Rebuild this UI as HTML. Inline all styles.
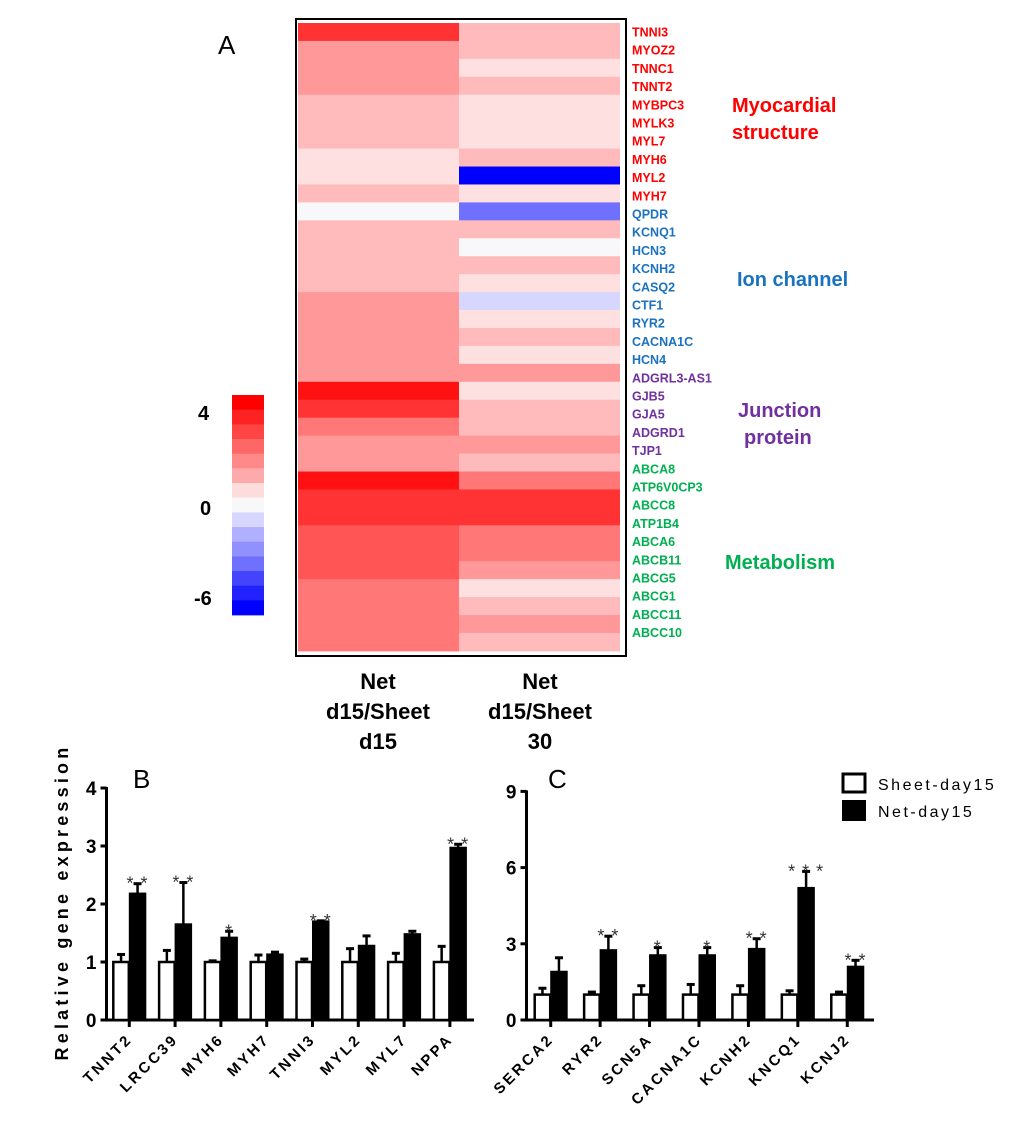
<!DOCTYPE html>
<html><head><meta charset="utf-8"><style>
body{margin:0;background:#fff;}
svg{display:block;font-family:"Liberation Sans",Arial,sans-serif;}
</style></head><body>
<svg id="fig" width="1020" height="1138" viewBox="0 0 1020 1138">
<g id="heat"></g>
<g id="chartB"></g>
<g id="chartC"></g>
</svg>
<script>
const NS="http://www.w3.org/2000/svg";
function mk(p,t,a,txt){const e=document.createElementNS(NS,t);for(const k in a)e.setAttribute(k,a[k]);if(txt!==undefined)e.textContent=txt;p.appendChild(e);return e;}

// ---------- Heatmap data ----------
const genes=["TNNI3","MYOZ2","TNNC1","TNNT2","MYBPC3","MYLK3","MYL7","MYH6","MYL2","MYH7","QPDR","KCNQ1","HCN3","KCNH2","CASQ2","CTF1","RYR2","CACNA1C","HCN4","ADGRL3-AS1","GJB5","GJA5","ADGRD1","TJP1","ABCA8","ATP6V0CP3","ABCC8","ATP1B4","ABCA6","ABCB11","ABCG5","ABCG1","ABCC11","ABCC10"];
const geneGroup=[0,0,0,0,0,0,0,0,0,0,1,1,1,1,1,1,1,1,1,2,2,2,2,2,3,3,3,3,3,3,3,3,3,3];
const col1=[3,1.5,1.5,1.5,1,1,1,0.5,0.5,1,0,1,1,1,1,1.5,1.5,1.5,1.5,1.5,3.8,3,2,1.5,1.5,3.8,3,3,2.5,2.5,2.5,2,2,2,2];
const col2=[1,1,0.5,1,0.5,0.5,0.5,1,-6,0.5,-4,1,0,1,0.5,-1,0.5,1,0.5,1.5,0.5,1,1,1.5,1,2,3,3,2,2,1.5,0.5,1,1.5,1];
const legendTicks=["4","0","-6"];
const colLabels=[["Net","d15/Sheet","d15"],["Net","d15/Sheet","30"]];
const groupColors=["#ff0000","#1a72c0","#7030a0","#00b050"];
function heatColor(v){
  if(v>=3.8)return"#ff1111";if(v>=3)return"#ff3333";if(v>=2.5)return"#ff5555";if(v>=2)return"#ff7777";
  if(v>=1.5)return"#ff9999";if(v>=1)return"#ffbbbb";if(v>=0.5)return"#ffe0e0";if(v>-0.5)return"#f8f8fa";
  if(v>-2)return"#d6d6ff";if(v>-5)return"#7070ff";return"#0000ff";}
(function(){
 const g=document.getElementById('heat');
 const x0=298,cw=161,y0=23,rh=17.94;
 const box=mk(g,'rect',{x:296,y:19,width:330,height:637,fill:'none',stroke:'#000','stroke-width':2});
 
 [col1,col2].forEach((col,c)=>col.forEach((v,i)=>{
  const r=mk(g,'rect',{x:x0+c*cw,y:y0+i*rh,width:cw,height:rh+0.5,fill:heatColor(v)});
  
 }));
 genes.forEach((t,i)=>{
  const e=mk(g,'text',{x:632,y:36.5+i*18.2,'font-size':12.5,'font-weight':'bold',fill:groupColors[geneGroup[i]]},t);
  
 });
 const cats=[[["Myocardial","structure"],732,112,0],[["Ion channel"],737,286,1],[["Junction"," protein"],738,417,2],[["Metabolism"],725,569,3]];
 cats.forEach(([ls,x,y,ci])=>ls.forEach((l,j)=>{
  const e=mk(g,'text',{x:x+(j&&ci==2?6:0),y:y+j*27,'font-size':20,'font-weight':'bold',fill:groupColors[ci]},l);
  
 }));
 colLabels.forEach((ls,c)=>ls.forEach((l,j)=>{
  const e=mk(g,'text',{x:378+c*162,y:689+j*30,'font-size':22,'font-weight':'bold','text-anchor':'middle'},l);
  
 }));
 const A=mk(g,'text',{x:218,y:54,'font-size':26},"A");
 
 const lc=["#ff0000","#ff2222","#ff4444","#ff6666","#ff8888","#ffaaaa","#ffdddd","#f8f8fa","#d6d6ff","#b0b0ff","#9090ff","#7070ff","#4444ff","#2222ff","#0000ff"];
 lc.forEach((c,i)=>{const r=mk(g,'rect',{x:232,y:395+i*14.67,width:32,height:15,fill:c});
  });
 const ly=[420,515,605],lx=[198,200,194];
 legendTicks.forEach((t,i)=>{const e=mk(g,'text',{x:lx[i],y:ly[i],'font-size':20,'font-weight':'bold'},t);
  });
})();

// ---------- Bar chart B ----------
const catsB=["TNNT2","LRCC39","MYH6","MYH7","TNNI3","MYL2","MYL7","NPPA"];
const sheetB=[1,1,1,1,1,1,1,1];
const sheetErrB=[0.13,0.2,0.02,0.12,0.05,0.23,0.15,0.27];
const netB=[2.18,1.65,1.42,1.13,1.7,1.28,1.48,2.97];
const netErrB=[0.17,0.72,0.11,0.04,0.01,0.17,0.05,0.06];
const starsB=[2,2,1,0,2,0,0,2];
const ticksB=[0,1,2,3,4];
// ---------- Bar chart C ----------
const catsC=["SERCA2","RYR2","SCN5A","CACNA1C","KCNH2","KNCQ1","KCNJ2"];
const sheetC=[1,1,1,1,1,1,1];
const sheetErrC=[0.25,0.1,0.35,0.4,0.35,0.15,0.1];
const netC=[1.9,2.75,2.55,2.55,2.8,5.2,2.1];
const netErrC=[0.55,0.55,0.3,0.3,0.4,0.65,0.25];
const starsC=[0,2,1,1,2,3,2];
const ticksC=[0,3,6,9];

function barChart(g,cfg){
 const {ax,y0,ppu,xEnd,t0,step,cats,sheet,sErr,net,nErr,stars,ticks}=cfg;
 const Y=v=>y0-v*ppu, X=i=>t0+i*step, bw=15.5;
 let e=mk(g,'line',{x1:ax,y1:Y(ticks[ticks.length-1])-1,x2:ax,y2:y0+1.5,stroke:'#000','stroke-width':3});
 
 e=mk(g,'line',{x1:ax-1.5,y1:y0,x2:xEnd,y2:y0,stroke:'#000','stroke-width':3});
 
 ticks.forEach(t=>{
  e=mk(g,'line',{x1:ax-6,y1:Y(t),x2:ax,y2:Y(t),stroke:'#000','stroke-width':3});
  
  e=mk(g,'text',{x:ax-10,y:Y(t)+7,'font-size':19,'font-weight':'bold','text-anchor':'end'},t);
  
 });
 cats.forEach((c,i)=>{
  const x=X(i);
  const errbar=(cx,v,er)=>{
   const l=mk(g,'line',{x1:cx,y1:Y(v),x2:cx,y2:Y(v+er),stroke:'#000','stroke-width':2.5});
   
   const l2=mk(g,'line',{x1:cx-4,y1:Y(v+er),x2:cx+4,y2:Y(v+er),stroke:'#000','stroke-width':3});
   
  };
  errbar(x-bw/2-0.5,sheet[i],sErr[i]);errbar(x+bw/2+0.5,net[i],nErr[i]);
  e=mk(g,'rect',{x:x-bw-0.5,y:Y(sheet[i]),width:bw,height:sheet[i]*ppu,fill:'#fff',stroke:'#000','stroke-width':2.5});
  
  e=mk(g,'rect',{x:x+0.5,y:Y(net[i]),width:bw,height:net[i]*ppu,fill:'#000',stroke:'#000','stroke-width':2});
  
  e=mk(g,'line',{x1:x,y1:y0,x2:x,y2:y0+7,stroke:'#000','stroke-width':3});
  
  const ns=stars[i], cx=x+bw/2, sp=14;
  for(let k=0;k<ns;k++){
   const sx=cx+(k-(ns-1)/2)*sp;
   e=mk(g,'text',{x:sx,y:Y(net[i]+nErr[i])+6,'font-size':18,'text-anchor':'middle',fill:'#333'},"*");
   
  }
  e=mk(g,'text',{x:x+4,y:y0+20,'font-size':15,'font-weight':'bold','text-anchor':'end','letter-spacing':'2.8',transform:`rotate(-45 ${x+4} ${y0+20})`},c);
  
 });
}
const gB=document.getElementById('chartB'),gC=document.getElementById('chartC');
barChart(gB,{ax:106.5,y0:1020,ppu:58,xEnd:474,t0:129.3,step:45.8,cats:catsB,sheet:sheetB,sErr:sheetErrB,net:netB,nErr:netErrB,stars:starsB,ticks:ticksB});
barChart(gC,{ax:526.5,y0:1020,ppu:25.4,xEnd:874,t0:550.7,step:49.43,cats:catsC,sheet:sheetC,sErr:sheetErrC,net:netC,nErr:netErrC,stars:starsC,ticks:ticksC});
let t=mk(gB,'text',{x:68,y:902,'font-size':18,'font-weight':'bold','text-anchor':'middle','letter-spacing':'4.2',transform:'rotate(-90 68 902)'},"Relative gene expression");

t=mk(gB,'text',{x:133,y:788,'font-size':26},"B");

t=mk(gC,'text',{x:548,y:788,'font-size':26},"C");

let r=mk(gC,'rect',{x:843,y:774,width:22,height:18,fill:'#fff',stroke:'#000','stroke-width':3});

r=mk(gC,'rect',{x:842,y:800,width:24,height:21,fill:'#000'});

t=mk(gC,'text',{x:878,y:790,'font-size':16,'letter-spacing':'2.5'},"Sheet-day15");

t=mk(gC,'text',{x:878,y:817,'font-size':16,'letter-spacing':'2.5'},"Net-day15");

</script>
</body></html>
